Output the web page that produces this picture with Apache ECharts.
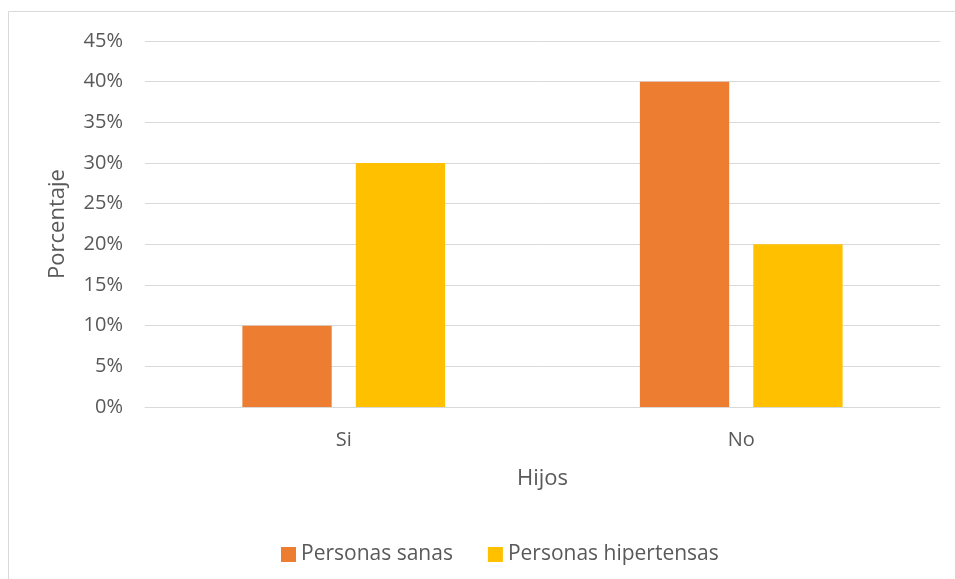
<!DOCTYPE html>
<html>
<head>
<meta charset="utf-8">
<script src="https://cdn.jsdelivr.net/npm/echarts@6/dist/echarts.min.js"></script>
<style>
  html, body { margin: 0; padding: 0; background: #fff; }
  #chart { width: 955px; height: 579px; }
</style>
</head>
<body>
<div id="chart"></div>
<script>
// Share of people with / without children, by health group
const categories = ['Si', 'No'];
const sanas = [10, 40];
const hipertensas = [30, 20];
const yTicks = [0, 5, 10, 15, 20, 25, 30, 35, 40, 45];

const FONT = '"Open Sans", "Liberation Sans", sans-serif';
const TEXT = '#595959';

const chart = echarts.init(document.getElementById('chart'), null, { renderer: 'canvas' });
chart.setOption({
  animation: false,
  backgroundColor: '#fff',
  graphic: [{
    type: 'rect',
    shape: { x: 8.5, y: 11.5, width: 1000, height: 600 },
    style: { fill: 'none', stroke: '#d9d9d9', lineWidth: 1 },
    silent: true
  }],
  grid: { left: 145, right: 15, top: 41, bottom: 172, containLabel: false },
  legend: {
    top: 539,
    left: 276,
    itemWidth: 15,
    itemHeight: 15,
    itemGap: 35,
    icon: 'rect',
    textStyle: { color: TEXT, fontSize: 21, fontFamily: FONT },
    data: ['Personas sanas', 'Personas hipertensas']
  },
  xAxis: {
    type: 'category',
    data: categories,
    name: 'Hijos',
    nameLocation: 'middle',
    nameGap: 61,
    nameTextStyle: { color: TEXT, fontSize: 22, fontFamily: FONT },
    axisLine: { lineStyle: { color: '#d9d9d9', width: 1 } },
    axisTick: { show: false },
    axisLabel: { color: TEXT, fontSize: 20, fontFamily: FONT, margin: 23 }
  },
  yAxis: {
    type: 'value',
    min: yTicks[0],
    max: yTicks[yTicks.length - 1],
    interval: 5,
    name: 'Porcentaje',
    nameLocation: 'middle',
    nameGap: 76,
    nameTextStyle: { color: TEXT, fontSize: 22, fontFamily: FONT },
    axisLine: { show: false },
    axisTick: { show: false },
    splitLine: { lineStyle: { color: '#d9d9d9', width: 1 } },
    axisLabel: { color: TEXT, fontSize: 20, fontFamily: FONT, margin: 22, formatter: '{value}%' }
  },
  series: [
    {
      name: 'Personas sanas',
      type: 'bar',
      data: sanas,
      itemStyle: { color: '#ED7D31' },
      barGap: '27%',
      barCategoryGap: '49%'
    },
    {
      name: 'Personas hipertensas',
      type: 'bar',
      data: hipertensas,
      itemStyle: { color: '#FFC000' },
      barGap: '27%',
      barCategoryGap: '49%'
    }
  ]
});
</script>
</body>
</html>
